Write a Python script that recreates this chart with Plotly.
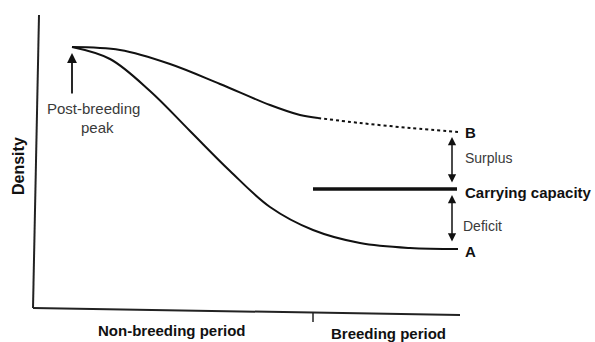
import plotly.graph_objects as go

# Time runs left to right (non-breeding then breeding period); density is in arbitrary units.
upper_x = [72, 120, 170, 220, 270, 300, 318]
upper_density = [295, 292, 278, 258, 237, 227, 224]

upper_dash_x = [318, 360, 410, 458]
upper_dash_density = [224, 219, 214, 210]

lower_x = [72, 110, 150, 190, 230, 270, 313, 360, 410, 458]
lower_density = [295, 283, 251, 211, 171, 135, 112, 99, 94, 93]

capacity_x = [313, 457]
capacity_density = [153, 153]

period_labels = ["Non-breeding period", "Breeding period"]
period_centers = [172, 388]
period_heights = [12, 9]

FONT = "Liberation Sans, Arial, sans-serif"
INK = "#111111"
GREY = "#3a3a3a"

fig = go.Figure()

fig.add_trace(go.Scatter(x=upper_x, y=upper_density, mode="lines",
                         line=dict(color=INK, width=2, shape="spline", smoothing=1.0)))
fig.add_trace(go.Scatter(x=upper_dash_x, y=upper_dash_density, mode="lines",
                         line=dict(color=INK, width=2, dash="3px,3px", shape="spline")))
fig.add_trace(go.Scatter(x=lower_x, y=lower_density, mode="lines",
                         line=dict(color=INK, width=2, shape="spline", smoothing=1.0)))
fig.add_trace(go.Scatter(x=capacity_x, y=capacity_density, mode="lines",
                         line=dict(color=INK, width=3.5)))

# Hand-drawn axes
axis_line = dict(color="#222222", width=2)
fig.add_shape(type="line", x0=39, y0=327, x1=33, y1=34, line=axis_line)
fig.add_shape(type="line", x0=33, y0=34, x1=460, y1=27, line=axis_line)
fig.add_shape(type="line", x0=313, y0=30, x1=313, y1=20, line=dict(color="#222222", width=1.5))

annotations = []

# Period labels under the time axis
for label, cx, cy in zip(period_labels, period_centers, period_heights):
    annotations.append(dict(x=cx, y=cy, text=f"<b>{label}</b>", showarrow=False,
                            font=dict(family=FONT, size=15, color=INK),
                            xanchor="center", yanchor="middle"))

annotations.append(dict(x=18, y=176, text="<b>Density</b>", textangle=-90, showarrow=False,
                        font=dict(family=FONT, size=16, color=INK),
                        xanchor="center", yanchor="middle"))

# Post-breeding peak arrow and label
annotations.append(dict(x=72, y=289, ax=72, ay=247, axref="x", ayref="y", text="",
                        showarrow=True, arrowhead=2, arrowsize=1.1, arrowwidth=1.8,
                        arrowcolor=INK))
annotations.append(dict(x=93, y=234, text="Post-breeding", showarrow=False,
                        font=dict(family=FONT, size=15, color=GREY)))
annotations.append(dict(x=97, y=215, text="peak", showarrow=False,
                        font=dict(family=FONT, size=15, color=GREY)))

# End labels
annotations.append(dict(x=463, y=210, text="<b>B</b>", showarrow=False, xanchor="left",
                        font=dict(family=FONT, size=15, color=INK)))
annotations.append(dict(x=463, y=91, text="<b>A</b>", showarrow=False, xanchor="left",
                        font=dict(family=FONT, size=15, color=INK)))
annotations.append(dict(x=463, y=150, text="<b>Carrying capacity</b>", showarrow=False,
                        xanchor="left", font=dict(family=FONT, size=15, color=INK)))
annotations.append(dict(x=463, y=184, text="Surplus", showarrow=False, xanchor="left",
                        font=dict(family=FONT, size=14, color=GREY)))
annotations.append(dict(x=461, y=116, text="Deficit", showarrow=False, xanchor="left",
                        font=dict(family=FONT, size=14, color=GREY)))

# Double-headed gap arrows
for top, bottom in [(205, 158), (147, 99)]:
    annotations.append(dict(x=452, y=top, ax=452, ay=bottom, axref="x", ayref="y", text="",
                            showarrow=True, arrowhead=2, startarrowhead=2,
                            arrowside="end+start", arrowsize=1.1, arrowwidth=1.5,
                            arrowcolor=INK))

fig.update_layout(
    width=595, height=342,
    margin=dict(l=0, r=0, t=0, b=0),
    paper_bgcolor="white", plot_bgcolor="white",
    showlegend=False,
    xaxis=dict(range=[0, 595], visible=False, fixedrange=True),
    yaxis=dict(range=[0, 342], visible=False, fixedrange=True),
    annotations=annotations,
)

fig.write_html("out.html")
